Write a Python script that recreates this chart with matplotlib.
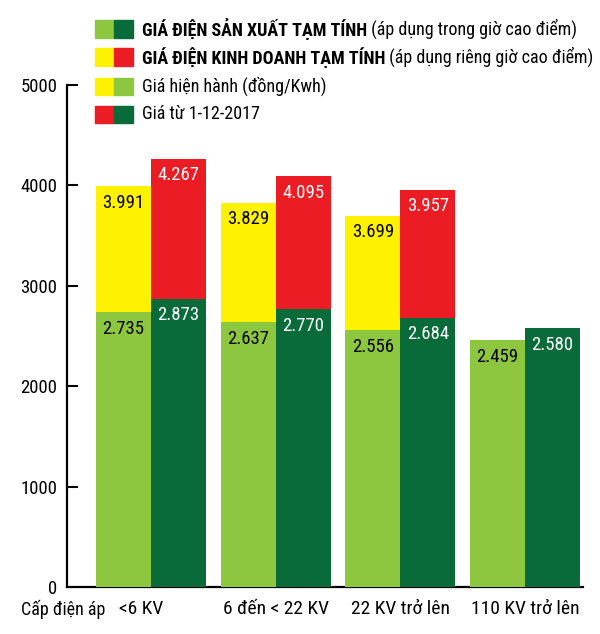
import matplotlib
matplotlib.use('Agg')
import matplotlib.pyplot as plt
import matplotlib.transforms as mtransforms
from matplotlib.patches import Rectangle
import numpy as np

# --- dữ liệu ---
categories = ['<6 KV', '6 đến < 22 KV', '22 KV trở lên', '110 KV trở lên']
sx_hien_hanh = [2735, 2637, 2556, 2459]   # sản xuất, giá hiện hành
sx_moi = [2873, 2770, 2684, 2580]         # sản xuất, giá từ 1-12-2017
kd_hien_hanh = [3991, 3829, 3699, None]   # kinh doanh, giá hiện hành
kd_moi = [4267, 4095, 3957, None]         # kinh doanh, giá từ 1-12-2017
y_ticks = [0, 1000, 2000, 3000, 4000, 5000]

LIGHT_GREEN = '#8dc63f'
DARK_GREEN = '#0a6b3a'
YELLOW = '#fff200'
RED = '#ec1c24'

FONT = ['Roboto Condensed', 'Roboto', 'DejaVu Sans']
plt.rcParams['font.family'] = FONT

fig = plt.figure(figsize=(6, 6.34), dpi=100)
ax = fig.add_axes([67 / 600, 1 - 587 / 634, 516 / 600, 502 / 634])

x = np.arange(len(categories))
w = 0.441


def fmt(v):
    return f"{v:,}".replace(',', '.')


def draw_bars(xs, vals, color, txt_color, z):
    for xi, v in zip(xs, vals):
        if v is None:
            continue
        ax.bar(xi, v, width=w, color=color, zorder=z, linewidth=0)
        ax.annotate(fmt(v), xy=(xi, v), xytext=(0, -12), textcoords='offset points',
                    ha='center', va='center', fontsize=13.5, color=txt_color, zorder=z + 1)


# kinh doanh phía sau, sản xuất phía trước
draw_bars(x - w / 2, kd_hien_hanh, YELLOW, 'black', 1)
draw_bars(x + w / 2, kd_moi, RED, 'white', 1)
draw_bars(x - w / 2, sx_hien_hanh, LIGHT_GREEN, 'black', 3)
draw_bars(x + w / 2, sx_moi, DARK_GREEN, 'white', 3)

ax.set_xlim(-0.674, 516 / 124.7 - 0.674)
ax.set_ylim(0, 5000)
ax.set_yticks(y_ticks)
ax.set_yticklabels([str(t) for t in y_ticks], fontsize=13.5)
ax.set_xticks(x)
ax.set_xticklabels(categories, fontsize=14)
ax.tick_params(axis='y', direction='in', length=8, width=1.5, pad=7)
ax.tick_params(axis='x', length=0, pad=9)
ax.yaxis.get_major_ticks()[0].tick1line.set_visible(False)
# nhãn "<6 KV" lệch trái một chút như bản gốc
lbl0 = ax.get_xticklabels()[0]
lbl0.set_transform(lbl0.get_transform() + mtransforms.ScaledTranslation(-0.1, 0, fig.dpi_scale_trans))
for s in ['top', 'right']:
    ax.spines[s].set_visible(False)
for s in ['left', 'bottom']:
    ax.spines[s].set_linewidth(1.6)
ax.spines['bottom'].set_zorder(0)

ax.text(38 / 516, -22 / 502, 'Cấp điện áp', transform=ax.transAxes, ha='right', va='center',
        fontsize=13)

# --- chú giải ---
legend_rows = [
    (LIGHT_GREEN, DARK_GREEN, 'GIÁ ĐIỆN SẢN XUẤT TẠM TÍNH', ' (áp dụng trong giờ cao điểm)'),
    (YELLOW, RED, 'GIÁ ĐIỆN KINH DOANH TẠM TÍNH', ' (áp dụng riêng giờ cao điểm)'),
    (YELLOW, LIGHT_GREEN, '', 'Giá hiện hành (đồng/Kwh)'),
    (RED, DARK_GREEN, '', 'Giá từ 1-12-2017'),
]
row_y = [29, 57, 86, 114]
W, H = 600, 634
for (c1, c2, bold, normal), yy in zip(legend_rows, row_y):
    fy = 1 - yy / H
    fig.patches.append(Rectangle((95 / W, fy - 8.5 / H), 19 / W, 17 / H, color=c1,
                                 transform=fig.transFigure, figure=fig))
    fig.patches.append(Rectangle((114 / W, fy - 8.5 / H), 19 / W, 17 / H, color=c2,
                                 transform=fig.transFigure, figure=fig))
    if bold:
        t = fig.text(142 / W, fy, bold, fontsize=13, fontweight='bold', va='center', ha='left')
        ax.annotate(normal, xy=(1, 0.5), xycoords=t, va='center', ha='left', fontsize=13,
                    annotation_clip=False)
    else:
        fig.text(142 / W, fy, normal, fontsize=13, va='center', ha='left')

fig.savefig('out.png', dpi=100)
